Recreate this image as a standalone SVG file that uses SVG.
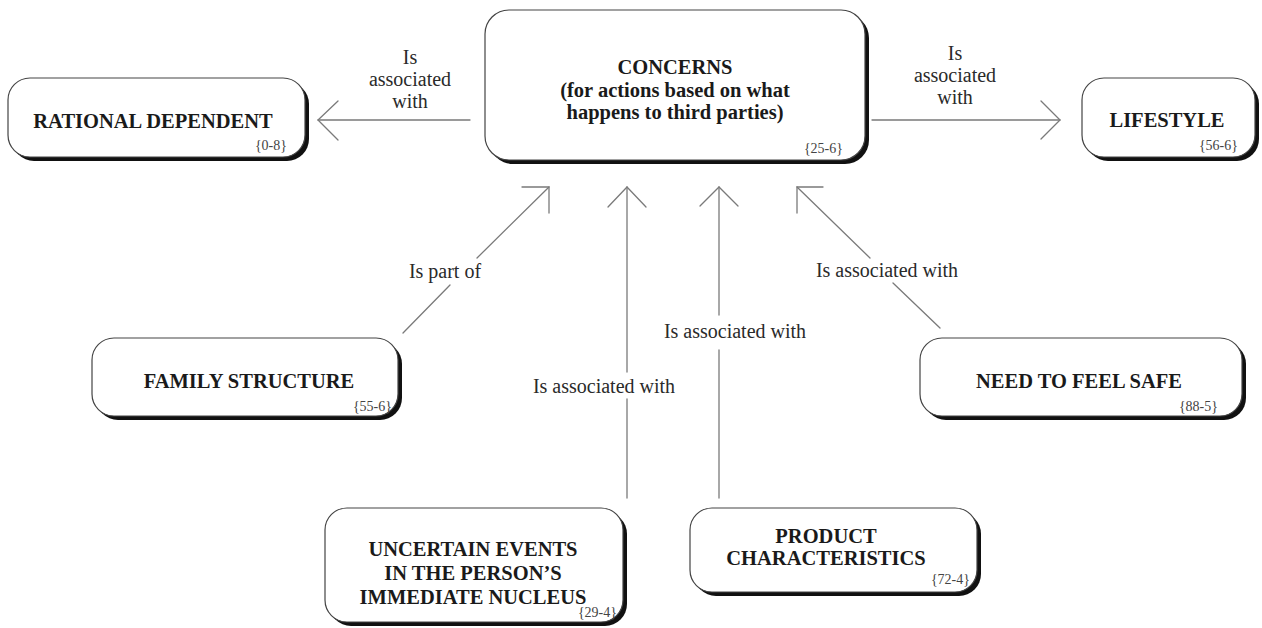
<svg xmlns="http://www.w3.org/2000/svg" width="1262" height="628" viewBox="0 0 1262 628">
  <style>
    .shadow { fill: #111; }
    .box { fill: #fff; stroke: #444; stroke-width: 1.2; }
    .title { font-family: "Liberation Serif", "DejaVu Serif", serif; font-weight: bold; font-size: 20.5px; fill: #1a1a1a; text-anchor: middle; }
    .code { font-family: "Liberation Serif", "DejaVu Serif", serif; font-size: 14px; fill: #444; text-anchor: end; }
    .label { font-family: "Liberation Serif", "DejaVu Serif", serif; font-size: 20px; fill: #2a2a2a; text-anchor: middle; }
    .conn { fill: none; stroke: #7a7a7a; stroke-width: 1.3; stroke-linecap: round; stroke-linejoin: miter; }
  </style>
  <rect width="1262" height="628" fill="#fff"/>

  <!-- connectors -->
  <g id="connectors">
    <!-- CONCERNS -> RATIONAL DEPENDENT -->
    <path class="conn" d="M470 120 H318"/>
    <path class="conn" d="M338 101 L318 120 L338 140"/>
    <text class="label" x="410" y="64">Is</text>
    <text class="label" x="410" y="86">associated</text>
    <text class="label" x="410" y="108">with</text>

    <!-- CONCERNS -> LIFESTYLE -->
    <path class="conn" d="M872 120 H1060"/>
    <path class="conn" d="M1041 101 L1060 120 L1041 139"/>
    <text class="label" x="955" y="60">Is</text>
    <text class="label" x="955" y="82">associated</text>
    <text class="label" x="955" y="104">with</text>

    <!-- FAMILY STRUCTURE -> CONCERNS -->
    <path class="conn" d="M403 333 L450 285 M477 258 L549 187"/>
    <path class="conn" d="M522 187 H549 V213"/>
    <text class="label" x="445" y="278">Is part of</text>

    <!-- UNCERTAIN EVENTS -> CONCERNS -->
    <path class="conn" d="M627 498 V399 M627 372 V187"/>
    <path class="conn" d="M608 207 L627 187 L646 207"/>
    <text class="label" x="604" y="393">Is associated with</text>

    <!-- PRODUCT CHARACTERISTICS -> CONCERNS -->
    <path class="conn" d="M719 498 V350 M719 315 V187"/>
    <path class="conn" d="M700 206 L719 187 L738 206"/>
    <text class="label" x="735" y="338">Is associated with</text>

    <!-- NEED TO FEEL SAFE -> CONCERNS -->
    <path class="conn" d="M940 328 L893 283 M870 258 L797 187"/>
    <path class="conn" d="M823 187 H797 V213"/>
    <text class="label" x="887" y="277">Is associated with</text>
  </g>

  <!-- nodes -->
  <g id="concerns">
    <rect class="shadow" x="489" y="14" width="380" height="150" rx="24"/>
    <rect class="box" x="485" y="10" width="380" height="150" rx="24"/>
    <text class="title" x="675" y="74">CONCERNS</text>
    <text class="title" x="675" y="97">(for actions based on what</text>
    <text class="title" x="675" y="119">happens to third parties)</text>
    <text class="code" x="843" y="153">{25-6}</text>
  </g>

  <g id="rational-dependent">
    <rect class="shadow" x="12" y="82" width="297" height="79" rx="22"/>
    <rect class="box" x="8" y="78" width="297" height="79" rx="22"/>
    <text class="title" x="153" y="128">RATIONAL DEPENDENT</text>
    <text class="code" x="287" y="150">{0-8}</text>
  </g>

  <g id="lifestyle">
    <rect class="shadow" x="1086" y="82" width="173" height="79" rx="22"/>
    <rect class="box" x="1082" y="78" width="173" height="79" rx="22"/>
    <text class="title" x="1167" y="127">LIFESTYLE</text>
    <text class="code" x="1238" y="150">{56-6}</text>
  </g>

  <g id="family-structure">
    <rect class="shadow" x="96" y="342" width="306" height="78" rx="22"/>
    <rect class="box" x="92" y="338" width="306" height="78" rx="22"/>
    <text class="title" x="249" y="388">FAMILY STRUCTURE</text>
    <text class="code" x="392" y="411">{55-6}</text>
  </g>

  <g id="need-to-feel-safe">
    <rect class="shadow" x="924" y="342" width="322" height="78" rx="22"/>
    <rect class="box" x="920" y="338" width="322" height="78" rx="22"/>
    <text class="title" x="1079" y="388">NEED TO FEEL SAFE</text>
    <text class="code" x="1218" y="411">{88-5}</text>
  </g>

  <g id="uncertain-events">
    <rect class="shadow" x="329" y="512" width="298" height="114" rx="22"/>
    <rect class="box" x="325" y="508" width="298" height="114" rx="22"/>
    <text class="title" x="473" y="556">UNCERTAIN EVENTS</text>
    <text class="title" x="473" y="580">IN THE PERSON’S</text>
    <text class="title" x="473" y="604">IMMEDIATE NUCLEUS</text>
    <text class="code" x="617" y="617">{29-4}</text>
  </g>

  <g id="product-characteristics">
    <rect class="shadow" x="694" y="512" width="287" height="84" rx="22"/>
    <rect class="box" x="690" y="508" width="287" height="84" rx="22"/>
    <text class="title" x="826" y="543">PRODUCT</text>
    <text class="title" x="826" y="565">CHARACTERISTICS</text>
    <text class="code" x="970" y="584">{72-4}</text>
  </g>
</svg>
